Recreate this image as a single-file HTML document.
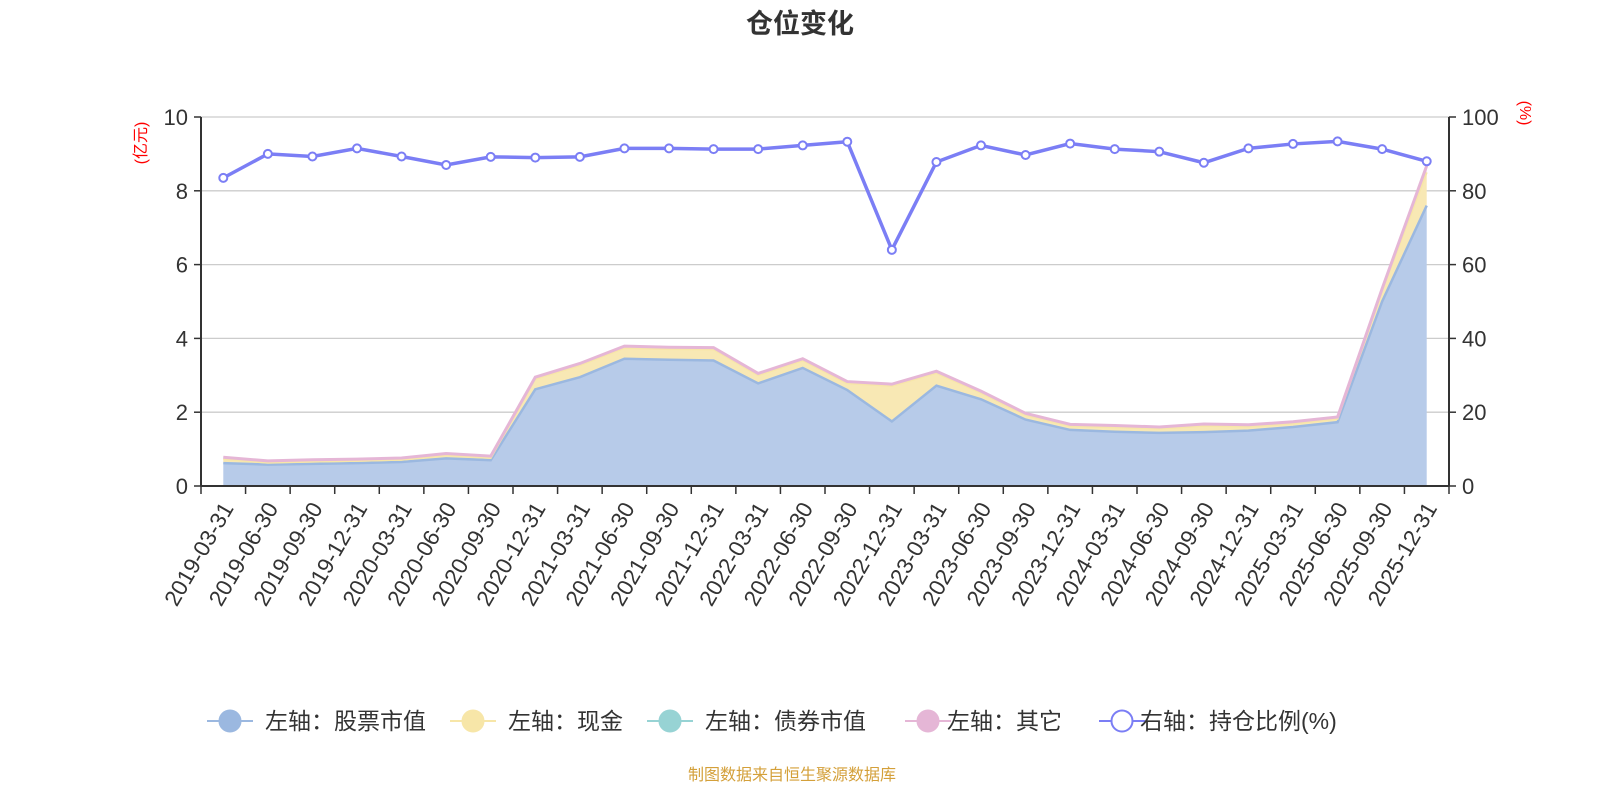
<!DOCTYPE html>
<html><head><meta charset="utf-8"><style>
html,body{margin:0;padding:0;background:#fff;width:1600px;height:800px;overflow:hidden}
svg text{font-family:"Liberation Sans","Noto Sans CJK SC",sans-serif}
</style></head><body>
<svg id="s" width="1600" height="800" xmlns="http://www.w3.org/2000/svg">
<text x="800" y="33" text-anchor="middle" font-size="27" font-weight="bold" fill="#333">仓位变化</text>
<text x="792" y="780" text-anchor="middle" font-size="16" fill="#d4a03a">制图数据来自恒生聚源数据库</text>
</svg>
<script>
var s=document.getElementById('s'),h='';
var L=201,R=1449,T=117,B=486,n=28,w=(R-L)/n;
function X(i){return L+w*(i+0.5)}
function Y(v){return B-(B-T)*v/10}
var st=[0.62,0.58,0.6,0.62,0.65,0.75,0.7,2.62,2.95,3.45,3.42,3.4,2.78,3.2,2.6,1.75,2.72,2.35,1.8,1.52,1.47,1.44,1.46,1.5,1.6,1.73,5.0,7.6];
var ca=[0.73,0.63,0.66,0.68,0.71,0.83,0.76,2.9,3.27,3.74,3.71,3.7,3.0,3.4,2.78,2.71,3.06,2.52,1.92,1.62,1.59,1.55,1.63,1.61,1.69,1.82,5.3,8.5];
var ot=ca.map(function(v,i){return v+0.05});ot[27]=8.68;
var ra=[83.5,90,89.3,91.5,89.3,87,89.2,89,89.2,91.5,91.5,91.3,91.3,92.3,93.3,64,87.8,92.3,89.7,92.8,91.3,90.6,87.6,91.5,92.7,93.4,91.3,88];
for(var k=0;k<=5;k++){var y=Y(k*2);h+='<line x1="'+L+'" x2="'+R+'" y1="'+y+'" y2="'+y+'" stroke="#ccc" stroke-width="1.3"/>';
h+='<line x1="'+(L-7)+'" x2="'+L+'" y1="'+y+'" y2="'+y+'" stroke="#333" stroke-width="1.5"/><line x1="'+R+'" x2="'+(R+7)+'" y1="'+y+'" y2="'+y+'" stroke="#333" stroke-width="1.5"/>';
h+='<text x="'+(L-13)+'" y="'+(y+8)+'" text-anchor="end" font-size="22" fill="#333">'+(k*2)+'</text>';
h+='<text x="'+(R+13)+'" y="'+(y+8)+'" font-size="22" fill="#333">'+(k*20)+'</text>';}
function pts(a,f){return a.map(function(v,i){return X(i)+','+f(v)}).join(' ')}
function area(top,bot,fill){var p=top.map(function(v,i){return X(i)+','+Y(v)});for(var i=bot.length-1;i>=0;i--)p.push(X(i)+','+Y(bot[i]));return '<polygon points="'+p.join(' ')+'" fill="'+fill+'"/>';}
var z=st.map(function(){return 0});
h+=area(ot,ca,'#f0d8e8');
h+=area(ca,st,'#f8e8b4');
h+=area(st,z,'#b7cbe9');
h+='<polyline points="'+pts(st,Y)+'" fill="none" stroke="#9bb8e0" stroke-width="2.5"/>';
h+='<polyline points="'+pts(ca,Y)+'" fill="none" stroke="#f7e6a8" stroke-width="2"/>';
h+='<polyline points="'+pts(ot,Y)+'" fill="none" stroke="#e5b6d6" stroke-width="3"/>';
var RY=function(v){return B-(B-T)*v/100};
h+='<polyline points="'+pts(ra,RY)+'" fill="none" stroke="#7b7ef5" stroke-width="3.5"/>';
ra.forEach(function(v,i){h+='<circle cx="'+X(i)+'" cy="'+RY(v)+'" r="4" fill="#fff" stroke="#7b7ef5" stroke-width="2"/>'});
h+='<line x1="'+L+'" x2="'+L+'" y1="'+T+'" y2="'+B+'" stroke="#333" stroke-width="2"/><line x1="'+R+'" x2="'+R+'" y1="'+T+'" y2="'+B+'" stroke="#333" stroke-width="2"/>';
h+='<line x1="'+L+'" x2="'+R+'" y1="'+B+'" y2="'+B+'" stroke="#333" stroke-width="2"/>';
var lab=[];for(var yy=2019;yy<=2025;yy++)['03-31','06-30','09-30','12-31'].forEach(function(m){lab.push(yy+'-'+m)});
for(var i=0;i<=n;i++){var x=L+w*i;h+='<line x1="'+x+'" x2="'+x+'" y1="'+B+'" y2="'+(B+8)+'" stroke="#333" stroke-width="1.5"/>';}
lab.forEach(function(t,i){var x=X(i)+11,y=B+22;h+='<text transform="translate('+x+','+y+') rotate(-60)" text-anchor="end" font-size="22.5" fill="#333">'+t+'</text>'});
h+='<text transform="translate(146,143) rotate(-90)" text-anchor="middle" font-size="16" fill="#f00">(亿元)</text>';
h+='<text transform="translate(1520,113) rotate(90)" text-anchor="middle" font-size="16" fill="#f00">(%)</text>';
var lg=[[230,'#9bb8e0','#9bb8e0','左轴：股票市值',265],[473,'#f7e6a8','#f7e6a8','左轴：现金',508],[670,'#97d3d4','#97d3d4','左轴：债券市值',705],[928,'#e5b6d6','#e5b6d6','左轴：其它',947],[1122,'#7b7ef5','#fff','右轴：持仓比例(%)',1140]];
lg.forEach(function(g){var c=g[0];h+='<line x1="'+(c-23)+'" x2="'+(c+23)+'" y1="721" y2="721" stroke="'+g[1]+'" stroke-width="2"/>';
h+='<circle cx="'+c+'" cy="721" r="10.5" fill="'+g[2]+'" stroke="'+g[1]+'" stroke-width="2"/>';
h+='<text x="'+g[4]+'" y="729" font-size="23" fill="#333">'+g[3]+'</text>'});
s.insertAdjacentHTML('beforeend',h);
</script>
</body></html>
